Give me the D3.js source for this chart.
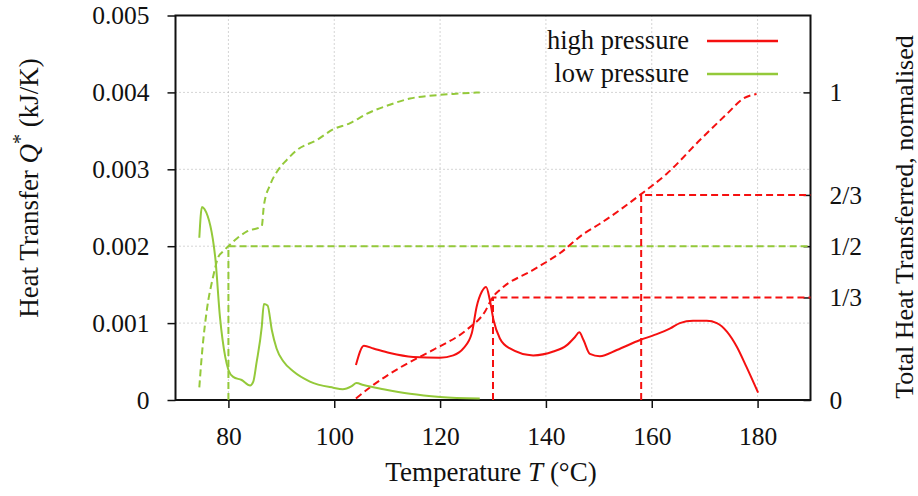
<!DOCTYPE html>
<html>
<head>
<meta charset="utf-8">
<script src="https://cdn.jsdelivr.net/npm/d3@7"></script>
<style>
  body { margin: 0; background: #fff; }
  svg text { font-family: "Liberation Serif", "Times New Roman", serif; fill: #111; }
</style>
</head>
<body>
<div id="chart"></div>
<script>
// low pressure: heat transfer per K (x1e-3 kJ/K)
const lowT = [74.5, 75.0, 75.5, 77.5, 78.4, 79.4, 80, 80.9, 82.5, 84.1, 84.7, 85.3, 86.3, 86.7, 87.4, 88.2, 89.1, 90.4, 92.3, 95.4, 99.8, 101.6, 103.3, 104.2, 105.5, 109.3, 114.3, 120, 127.5];
const lowQ = [2.11, 2.51, 2.48, 1.86, 1.08, 0.56, 0.39, 0.30, 0.26, 0.19, 0.24, 0.48, 0.95, 1.25, 1.23, 0.91, 0.67, 0.50, 0.37, 0.24, 0.16, 0.14, 0.18, 0.22, 0.195, 0.14, 0.08, 0.04, 0.02];

// low pressure: cumulative, normalised
const lowCumT = [74.5, 75.0, 75.9, 77.1, 78.1, 79.0, 80, 81.6, 83.5, 86.3, 86.7, 87.9, 89.4, 91.0, 92.9, 96.7, 99.8, 103, 106.1, 110.5, 114.3, 118.7, 122.5, 127.5];
const lowCum = [0.041, 0.15, 0.29, 0.40, 0.465, 0.483, 0.5, 0.525, 0.548, 0.565, 0.632, 0.70, 0.748, 0.78, 0.812, 0.845, 0.88, 0.90, 0.93, 0.96, 0.98, 0.99, 0.995, 1.0];

// high pressure: heat transfer per K (x1e-3 kJ/K)
const highT = [104.1, 105.6, 107.4, 110.5, 114.9, 120, 122.5, 124.4, 126.0, 126.9, 127.9, 128.7, 129.4, 130.1, 131.3, 133.2, 137.6, 141.4, 143.9, 145.5, 146.3, 147.1, 148.3, 150.2, 153.4, 157.8, 160.3, 163.5, 165.3, 167.8, 170.4, 172.3, 174.2, 176.1, 177.9, 180.1];
const highQ = [0.455, 0.705, 0.67, 0.61, 0.56, 0.55, 0.58, 0.67, 0.87, 1.21, 1.41, 1.47, 1.30, 1.04, 0.80, 0.67, 0.58, 0.63, 0.71, 0.82, 0.88, 0.78, 0.60, 0.57, 0.65, 0.78, 0.84, 0.93, 1.00, 1.03, 1.03, 1.00, 0.89, 0.69, 0.43, 0.095];

// high pressure: cumulative, normalised
const highCumT = [104.1, 107.4, 112.4, 118.7, 125, 128.5, 129.9, 131.3, 137.6, 142.7, 147.1, 150.2, 157.8, 162.8, 169.1, 174.2, 177.3, 179.8];
const highCum = [0.005, 0.049, 0.105, 0.163, 0.228, 0.288, 0.333, 0.358, 0.423, 0.478, 0.54, 0.573, 0.667, 0.735, 0.845, 0.93, 0.98, 0.995];

// temperatures where 1/2 (low) and 1/3, 2/3 (high) of the heat is transferred
const lowHalfT = 80;
const highThirdT = [130, 158];

const xTicks = [80, 100, 120, 140, 160, 180];
const yTicks = [0, 0.001, 0.002, 0.003, 0.004, 0.005];
const rightTicks = [0, 1/3, 1/2, 2/3, 1];
const rightLabels = ["0", "1/3", "1/2", "2/3", "1"];

const width = 918, height = 496;
const margin = { top: 15.5, right: 107.5, bottom: 96, left: 175.5 };
const innerW = width - margin.left - margin.right;
const innerH = height - margin.top - margin.bottom;

const red = "#f51010";
const green = "#94c93a";
const serif = "'Liberation Serif', 'Times New Roman', serif";
const tickFont = "25.5px";
const titleFont = "27px";

const svg = d3.select("#chart").append("svg")
  .attr("width", width)
  .attr("height", height)
  .style("font-family", serif);

const g = svg.append("g")
  .attr("transform", `translate(${margin.left},${margin.top})`);

const x = d3.scaleLinear().domain([70, 190]).range([0, innerW]);
const y = d3.scaleLinear().domain([0, 0.005]).range([innerH, 0]);
// normalised axis: 1 sits at 0.004
const y2 = d3.scaleLinear().domain([0, 1]).range([innerH, y(0.004)]);

// grid
g.append("g").selectAll("line")
  .data(xTicks)
  .join("line")
  .attr("x1", d => x(d)).attr("x2", d => x(d))
  .attr("y1", 0).attr("y2", innerH)
  .attr("stroke", "#aaa").attr("stroke-width", 1).attr("stroke-dasharray", "1,3");
g.append("g").selectAll("line")
  .data(yTicks.filter(d => d > 0 && d < 0.005))
  .join("line")
  .attr("x1", 0).attr("x2", innerW)
  .attr("y1", d => y(d)).attr("y2", d => y(d))
  .attr("stroke", "#aaa").attr("stroke-width", 1).attr("stroke-dasharray", "1,3");

// axes
const xAxis = g.append("g")
  .attr("transform", `translate(0,${innerH})`)
  .call(d3.axisBottom(x).tickValues(xTicks).tickSize(8).tickPadding(19));
const yAxis = g.append("g")
  .call(d3.axisLeft(y).tickValues(yTicks).tickSize(8).tickPadding(18).tickFormat(d3.format(".3~f")));
const rAxis = g.append("g")
  .attr("transform", `translate(${innerW},0)`)
  .call(d3.axisRight(y2).tickValues(rightTicks).tickSize(-7).tickPadding(19).tickFormat((d, i) => rightLabels[i]));

[xAxis, yAxis, rAxis].forEach(a => {
  a.attr("font-family", serif).attr("font-size", tickFont);
  a.select(".domain").remove();
  a.selectAll("line").attr("stroke", "#111").attr("stroke-width", 1.5);
  a.selectAll("text")
    .style("font-family", serif)
    .style("font-size", tickFont)
    .attr("fill", "#111");
});

// frame
g.append("rect")
  .attr("width", innerW).attr("height", innerH)
  .attr("fill", "none").attr("stroke", "#111").attr("stroke-width", 2);

// reference lines
const refs = [
  { t: lowHalfT, v: 1/2, c: green },
  { t: highThirdT[0], v: 1/3, c: red },
  { t: highThirdT[1], v: 2/3, c: red }
];
refs.forEach(r => {
  g.append("path")
    .attr("d", `M${x(r.t)},${y2(0)}V${y2(r.v)}H${innerW}`)
    .attr("fill", "none").attr("stroke", r.c).attr("stroke-width", 2)
    .attr("stroke-dasharray", "7,4");
});

const line = d3.line().curve(d3.curveMonotoneX);

const series = [
  { t: lowCumT, v: lowCum, sc: y2, c: green, dash: "7,4" },
  { t: highCumT, v: highCum, sc: y2, c: red, dash: "7,4" },
  { t: lowT, v: lowQ.map(q => q / 1000), sc: y, c: green, dash: null },
  { t: highT, v: highQ.map(q => q / 1000), sc: y, c: red, dash: null }
];
series.forEach(s => {
  g.append("path")
    .attr("d", line(s.t.map((t, i) => [x(t), s.sc(s.v[i])])))
    .attr("fill", "none")
    .attr("stroke", s.c)
    .attr("stroke-width", 2)
    .attr("stroke-dasharray", s.dash);
});

// legend
const legend = [
  { name: "high pressure", c: red },
  { name: "low pressure", c: green }
];
legend.forEach((l, i) => {
  const ly = 41 + i * 33;
  svg.append("text")
    .attr("x", 689).attr("y", ly + 7.5)
    .attr("text-anchor", "end")
    .style("font-size", "26.5px")
    .text(l.name);
  svg.append("line")
    .attr("x1", 707).attr("x2", 778)
    .attr("y1", ly).attr("y2", ly)
    .attr("stroke", l.c).attr("stroke-width", 2.5);
});

// axis titles
const xt = svg.append("text")
  .attr("x", 491).attr("y", 481)
  .attr("text-anchor", "middle")
  .style("font-size", titleFont);
xt.append("tspan").text("Temperature ");
xt.append("tspan").style("font-style", "italic").text("T");
xt.append("tspan").text(" (°C)");

const yt = svg.append("text")
  .attr("transform", "translate(38,188) rotate(-90)")
  .attr("text-anchor", "middle")
  .style("font-size", titleFont);
yt.append("tspan").text("Heat Transfer ");
yt.append("tspan").style("font-style", "italic").text("Q");
yt.append("tspan").attr("dy", "-11").style("font-size", "20px").text("*");
yt.append("tspan").attr("dy", "11").text(" (kJ/K)");

svg.append("text")
  .attr("transform", "translate(913,217) rotate(-90)")
  .attr("text-anchor", "middle")
  .style("font-size", "26px")
  .text("Total Heat Transferred, normalised");
</script>
</body>
</html>
